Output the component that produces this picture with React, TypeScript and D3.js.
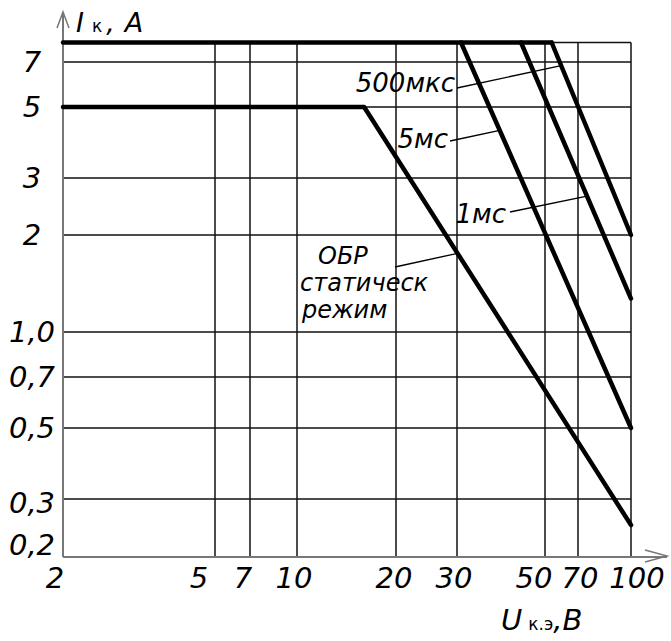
import React from 'react';
import * as d3 from 'd3';

// ---- data ----
const xTicks = [2, 5, 7, 10, 20, 30, 50, 70, 100];
const xTickLabels = ['2', '5', '7', '10', '20', '30', '50', '70', '100'];
const yTicks = [0.2, 0.3, 0.5, 0.7, 1, 2, 3, 5, 7, 8];
const yTickLabels = ['0,2', '0,3', '0,5', '0,7', '1,0', '2', '3', '5', '7', ''];

const topLimitU = [2, 53.5];
const topLimitI = [8, 8];
const staticU = [2, 16, 100];
const staticI = [5, 5, 0.25];
const ms5U = [30.7, 100];
const ms5I = [8, 0.5];
const ms1U = [43.5, 100];
const ms1I = [8, 1.27];
const us500U = [53.5, 100];
const us500I = [8, 2];

const staticLabelLines = ['ОБР', 'статическ', 'режим'];

// ---- layout (hand-drawn grid positions of the original) ----
const xRange = [63, 215, 250, 297, 396, 457, 545, 578, 631];
const yRange = [557, 499, 428, 377, 332, 235, 178, 107, 62, 42.5];
const xLabelNudge: Record<number, number> = { 2: -8, 5: -16, 7: -7, 10: -3, 20: -2, 30: -3, 50: -11, 70: 2, 100: 6 };
const yLabelNudge: Record<number, number> = { 0.2: -12, 0.3: 4 };
const staticLabelPos = [
  { x: 318, y: 264 },
  { x: 300, y: 291 },
  { x: 302, y: 318 },
];

const FONT = "'DejaVu Sans', 'Verdana', sans-serif";

export default function App() {
  const x = d3.scaleLog().domain(xTicks).range(xRange);
  const y = d3.scaleLog().domain(yTicks).range(yRange);
  const line = d3
    .line<[number, number]>()
    .x((d) => x(d[0]))
    .y((d) => y(d[1]));
  const zip = (u: number[], i: number[]) => u.map((v, k) => [v, i[k]] as [number, number]);

  const x0 = x(2), x1 = x(100), y0 = y(0.2), y1 = y(8);

  // leader target: point along segment a-b at fraction t (pixel space)
  const along = (u: number[], i: number[], seg: number, t: number) => {
    const ax = x(u[seg]), ay = y(i[seg]), bx = x(u[seg + 1]), by = y(i[seg + 1]);
    return [ax + (bx - ax) * t, ay + (by - ay) * t];
  };
  const p500 = along(us500U, us500I, 0, 0.12);
  const p5 = along(ms5U, ms5I, 0, 0.228);
  const p1 = along(ms1U, ms1I, 0, 0.6);
  const pS = along(staticU, staticI, 1, 0.35);

  const thick = { fill: 'none', stroke: '#000', strokeWidth: 4.5, strokeLinecap: 'round' as const, strokeLinejoin: 'round' as const };
  const textStyle = { fontFamily: FONT, fontStyle: 'italic' as const, fill: '#000' };

  return (
    <svg width={671} height={641} style={{ position: 'absolute', left: 0, top: 0, background: '#fff' }}>
      {/* grid */}
      <g stroke="#111" strokeWidth={1.5}>
        {xTicks.slice(1).map((t) => (
          <line key={'vx' + t} x1={x(t)} x2={x(t)} y1={y0} y2={y1} />
        ))}
        {yTicks.slice(1).map((t) => (
          <line key={'hy' + t} x1={x0} x2={x1} y1={y(t)} y2={y(t)} />
        ))}
      </g>
      {/* axes */}
      <g stroke="#777" strokeWidth={2} fill="none">
        <line x1={x0} x2={x0} y1={y0} y2={12} />
        <polyline points={`${x0 - 6},28 ${x0},12 ${x0 + 6},28`} strokeWidth={1.5} />
        <line x1={x0} x2={667} y1={y0} y2={y0} />
        <polyline points={`645,550 667,556 645,562`} strokeWidth={1.5} />
      </g>
      {/* curves */}
      <path d={line(zip(topLimitU, topLimitI)) || ''} {...thick} />
      <path d={line(zip(staticU, staticI)) || ''} {...thick} />
      <path d={line(zip(ms5U, ms5I)) || ''} {...thick} />
      <path d={line(zip(ms1U, ms1I)) || ''} {...thick} />
      <path d={line(zip(us500U, us500I)) || ''} {...thick} />

      {/* leaders */}
      <g stroke="#000" strokeWidth={1.3}>
        <line x1={457} y1={88} x2={p500[0]} y2={p500[1]} />
        <line x1={450} y1={141} x2={p5[0]} y2={p5[1]} />
        <line x1={510} y1={212} x2={p1[0]} y2={p1[1]} />
        <line x1={395} y1={267} x2={pS[0]} y2={pS[1]} />
      </g>

      {/* tick labels */}
      <g {...textStyle} fontSize={29}>
        {xTicks.map((t, k) => (
          <text key={'xl' + t} x={x(t) + (xLabelNudge[t] || 0)} y={588} textAnchor="middle">
            {xTickLabels[k]}
          </text>
        ))}
        {yTicks.map((t, k) =>
          yTickLabels[k] ? (
            <text key={'yl' + t} x={32} y={y(t) + (yLabelNudge[t] || 0)} dy="0.36em" textAnchor="middle">
              {yTickLabels[k]}
            </text>
          ) : null
        )}
      </g>

      {/* axis titles */}
      <text {...textStyle} x={76} y={32} fontSize={27}>
        I<tspan fontSize={17} fontStyle="normal" dx={8}>к</tspan>
        <tspan dx={4}>,</tspan>
        <tspan dx={10}>A</tspan>
      </text>
      <text {...textStyle} x={501} y={630} fontSize={29}>
        U<tspan fontSize={17} fontStyle="normal" dx={6}>к.э</tspan>
        <tspan>,B</tspan>
      </text>

      {/* annotations */}
      <g {...textStyle} fontSize={26}>
        <text x={455} y={92} textAnchor="end">500мкс</text>
        <text x={448} y={148} textAnchor="end">5мс</text>
        <text x={506} y={223} textAnchor="end">1мс</text>
      </g>
      <g {...textStyle} fontSize={24}>
        {staticLabelLines.map((s, k) => (
          <text key={s} x={staticLabelPos[k].x} y={staticLabelPos[k].y}>
            {s}
          </text>
        ))}
      </g>
    </svg>
  );
}
